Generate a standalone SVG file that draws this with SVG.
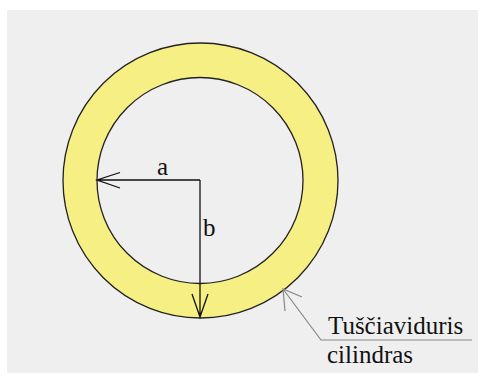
<svg xmlns="http://www.w3.org/2000/svg" width="478" height="383" viewBox="0 0 478 383">
<style>
.lbl{font-family:'Liberation Serif','Times New Roman','DejaVu Serif',serif;font-size:25px;fill:#111}
.dim{stroke:#111;stroke-width:1.3;fill:none}
.lead{stroke:#888;stroke-width:1.2;fill:none}
</style>
<rect x="0" y="0" width="478" height="383" fill="#ffffff"/>
<rect x="7" y="10" width="471" height="363" fill="#efefef"/>
<g id="cylinder">
<path d="M63,180.5 a137.5,137.5 0 1,0 275,0 a137.5,137.5 0 1,0 -275,0 Z M97,180.5 a103,103 0 1,1 206,0 a103,103 0 1,1 -206,0 Z" fill="#f6ef84" fill-rule="evenodd" stroke="none"/>
<circle cx="200.5" cy="180.5" r="137.5" fill="none" stroke="#222" stroke-width="1.3"/>
<circle cx="200" cy="180.5" r="103" fill="none" stroke="#222" stroke-width="1.3"/>
</g>
<g id="connectors">
<path class="dim" d="M200,180 H97 M120,172.5 L97,180 L120,188"/>
<path class="dim" d="M200,180 V317 M192,294 L200,317 L208,294"/>
<path class="lead" d="M283,289 L321,340 H472 M302,297 L283,289 L285,311"/>
</g>
<g id="label-a"><text class="lbl" font-family="Liberation Serif, serif" x="157" y="175">a</text></g>
<g id="label-b"><text class="lbl" font-family="Liberation Serif, serif" x="203" y="236">b</text></g>
<g id="label-cyl">
<text class="lbl" font-family="Liberation Serif, serif" x="328" y="334">Tuščiaviduris</text>
<text class="lbl" font-family="Liberation Serif, serif" x="327" y="363">cilindras</text>
</g>
</svg>
